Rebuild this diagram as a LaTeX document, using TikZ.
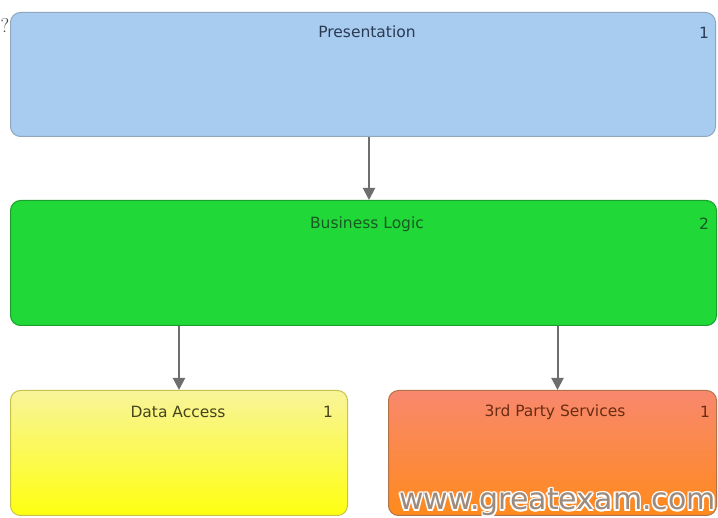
\documentclass[tikz,border=0pt]{standalone}
\usepackage{fontspec}
\setmainfont{DejaVu Sans}
\newfontfamily\lmfont{Latin Modern Roman}
\usetikzlibrary{arrows.meta}
\definecolor{presfill}{HTML}{A8CCF0}
\definecolor{presdraw}{HTML}{8FA6BE}
\definecolor{prestext}{HTML}{2A3A52}
\definecolor{bizfill}{HTML}{20D838}
\definecolor{bizdraw}{HTML}{1A9E2C}
\definecolor{biztext}{HTML}{1A5A22}
\definecolor{datop}{HTML}{F8F49A}
\definecolor{dabot}{HTML}{FFFF10}
\definecolor{dadraw}{HTML}{C8C24A}
\definecolor{datext}{HTML}{46441E}
\definecolor{tptop}{HTML}{F8886E}
\definecolor{tpbot}{HTML}{FF8A1C}
\definecolor{tpdraw}{HTML}{B07448}
\definecolor{tptext}{HTML}{6A2C12}
\definecolor{arrcol}{HTML}{6E6E6E}
\definecolor{wmcol}{HTML}{9C8C80}
\tikzset{
  layerbox/.style={rectangle, rounded corners=10pt, line width=1pt, anchor=north west, inner sep=0pt},
  title/.style={font=\fontsize{15.5}{18}\selectfont, inner sep=0pt, anchor=center},
  arr/.style={draw=arrcol, line width=2pt, -{Triangle[width=12pt,length=12pt]}},
}
\begin{document}
\begin{tikzpicture}[x=1pt,y=-1pt]
\useasboundingbox (0,0) rectangle (718,518);
\fill[white] (0,0) rectangle (718,518);
% boxes
\node[layerbox, fill=presfill, draw=presdraw, minimum width=705pt, minimum height=124pt] (pres) at (10,12) {};
\node[layerbox, fill=bizfill, draw=bizdraw, minimum width=706pt, minimum height=125pt] (biz) at (10,200) {};
\node[layerbox, top color=datop, bottom color=dabot, draw=dadraw, minimum width=337pt, minimum height=125pt] (da) at (10,390) {};
\node[layerbox, top color=tptop, bottom color=tpbot, draw=tpdraw, minimum width=328pt, minimum height=125pt] (tp) at (388,390) {};
% titles
\node[title, text=prestext] (prest) at (367,32) {Presentation};
\node[title, text=prestext] (presn) at (704,33) {1};
\node[title, text=biztext] (bizt) at (367,224) {Business Logic};
\node[title, text=biztext] (bizn) at (704,224) {2};
\node[title, text=datext] (dat) at (178,412) {Data Access};
\node[title, text=datext] (dan) at (328,412) {1};
\node[title, text=tptext] (tpt) at (555,412) {3rd Party Services};
\node[title, text=tptext] (tpn) at (705,412) {1};
% arrows
\draw[arr] ([xshift=6pt]pres.south) -- ([xshift=6pt]pres.south |- biz.north);
\draw[arr] (da.north |- biz.south) -- (da.north);
\draw[arr] ([xshift=5pt]tp.north |- biz.south) -- ([xshift=5pt]tp.north);
% stray glyph at left edge
\node[inner sep=0pt, font=\lmfont\fontsize{20}{22}\selectfont, text=black!75] (q) at (5,25) {?};
% watermark: white halo copies, grey text on top
\foreach \dx/\dy in {-1.5/0,1.5/0,0/-1.5,0/1.5,-1.1/-1.1,1.1/1.1,-1.1/1.1,1.1/-1.1}{
  \node[inner sep=0pt, anchor=base east, font=\fontsize{30}{34}\selectfont, text=white] at (716+\dx,510+\dy) {www.greatexam.com};
}
\node[inner sep=0pt, anchor=base east, font=\fontsize{30}{34}\selectfont, text=wmcol] (wm) at (716,510) {www.greatexam.com};
\end{tikzpicture}
\end{document}
